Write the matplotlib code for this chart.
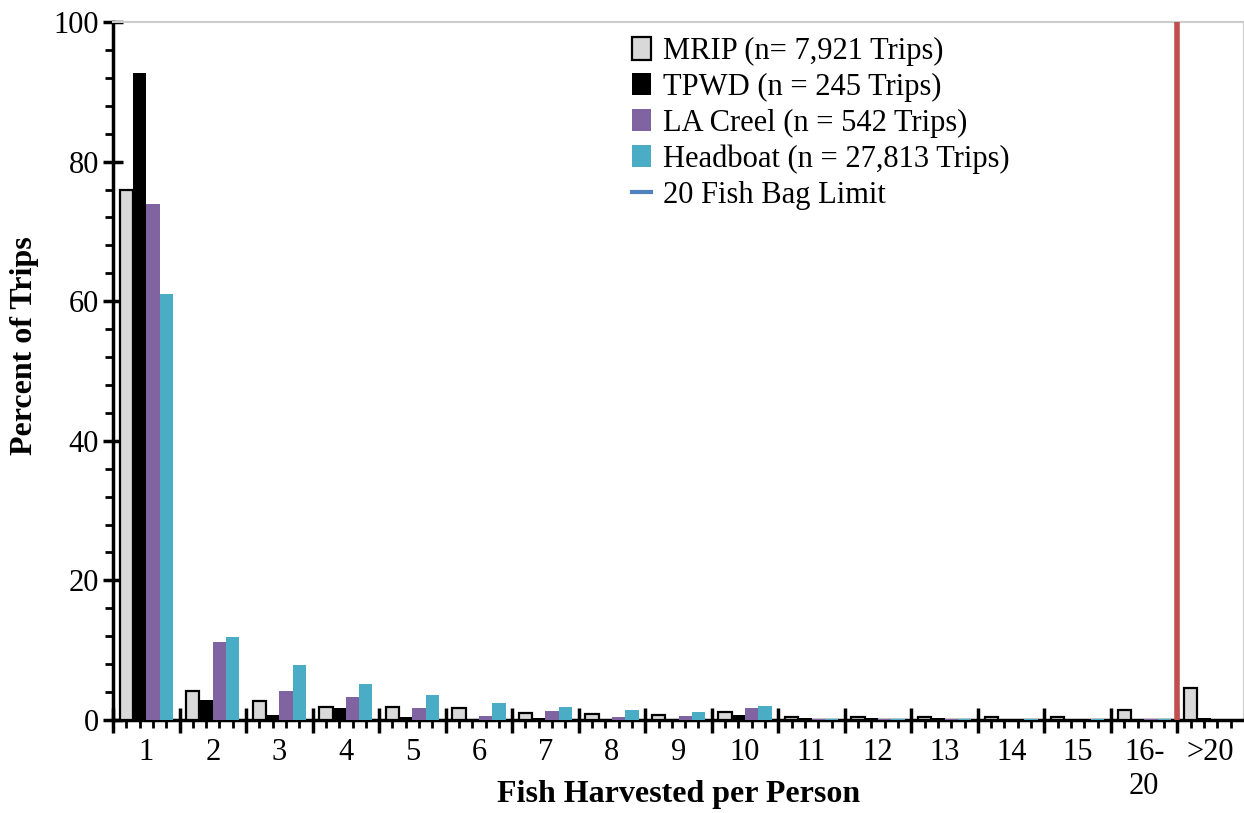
import numpy as np
import matplotlib
matplotlib.use('Agg')
import matplotlib.pyplot as plt
from matplotlib.patches import Patch
from matplotlib.lines import Line2D
from matplotlib.ticker import MultipleLocator, FixedLocator, NullFormatter

# data (percent of trips)
categories = ['1', '2', '3', '4', '5', '6', '7', '8', '9', '10',
              '11', '12', '13', '14', '15', '16-\n20', '>20']
mrip     = [76.0, 4.2, 2.7, 1.9, 1.9, 1.7, 1.0, 0.8, 0.7, 1.2, 0.5, 0.5, 0.5, 0.4, 0.4, 1.5, 4.6]
tpwd     = [92.7, 2.8, 0.7, 1.7, 0.4, 0.1, 0.3, 0.2, 0.2, 0.7, 0.3, 0.3, 0.3, 0.2, 0.2, 0.0, 0.3]
la_creel = [73.9, 11.2, 4.2, 3.3, 1.7, 0.6, 1.3, 0.5, 0.6, 1.7, 0.1, 0.1, 0.1, 0.0, 0.0, 0.1, 0.0]
headboat = [61.0, 11.9, 7.9, 5.2, 3.6, 2.5, 1.9, 1.4, 1.1, 2.0, 0.1, 0.1, 0.1, 0.1, 0.1, 0.1, 0.0]
series_labels = ['MRIP (n= 7,921 Trips)', 'TPWD (n = 245 Trips)',
                 'LA Creel (n = 542 Trips)', 'Headboat (n = 27,813 Trips)']
bag_limit_label = '20 Fish Bag Limit'

plt.rcParams['font.family'] = ['Liberation Serif', 'DejaVu Serif']

fig = plt.figure(figsize=(12.44, 8.13), dpi=100)
ax = fig.add_axes([113/1244, 93/813, 1131/1244, 698/813])

x = np.arange(len(categories))
w = 0.2
ax.bar(x - 0.3, mrip, w, color='#D9D9D9', edgecolor='black', linewidth=1.6, zorder=3)
ax.bar(x - 0.1, tpwd, w, color='black', zorder=3)
ax.bar(x + 0.1, la_creel, w, color='#8064A2', zorder=3)
ax.bar(x + 0.3, headboat, w, color='#4BACC6', zorder=3)

# bag limit line between 16-20 and >20
ax.axvline(15.5, color='#C0504D', linewidth=4, zorder=4)

ax.set_xlim(-0.5, len(categories) - 0.5)
ax.set_ylim(0, 100)

# spines
ax.spines['left'].set_linewidth(2.5)
ax.spines['bottom'].set_linewidth(2.5)
ax.spines['top'].set_color('#CCCCCC')
ax.spines['right'].set_color('#CCCCCC')
ax.spines['top'].set_linewidth(1.5)
ax.spines['right'].set_linewidth(1.5)

# y ticks
ax.yaxis.set_major_locator(MultipleLocator(20))
ax.yaxis.set_minor_locator(MultipleLocator(4))
ax.tick_params(axis='y', which='major', direction='inout', length=14, width=2.5, labelsize=22, pad=3)
ax.tick_params(axis='y', which='minor', direction='out', length=6, width=2)

# x ticks: marks at the category edges, labels at the centres
ax.xaxis.set_major_locator(FixedLocator(x - 0.5))
ax.xaxis.set_major_formatter(NullFormatter())
ax.xaxis.set_minor_locator(FixedLocator([b + k * 0.2 for b in x - 0.5 for k in range(1, 5)]))
ax.tick_params(axis='x', which='major', direction='inout', length=18, width=2.5)
ax.tick_params(axis='x', which='minor', direction='out', length=6, width=2)
for xi, lab in zip(x, categories):
    ax.text(xi, -0.026, lab, transform=ax.get_xaxis_transform(), ha='center', va='top',
            fontsize=22, linespacing=1.2)

ax.set_ylabel('Percent of Trips', fontsize=23, fontweight='bold')
ax.yaxis.set_label_coords(-0.0655, 0.537)
ax.set_xlabel('Fish Harvested per Person', fontsize=23, fontweight='bold', labelpad=31)

handles = [Patch(facecolor='#D9D9D9', edgecolor='black', linewidth=1.6),
           Patch(facecolor='black'),
           Patch(facecolor='#8064A2'),
           Patch(facecolor='#4BACC6'),
           Line2D([0], [0], color='#4F81BD', linewidth=3)]
ax.legend(handles, series_labels + [bag_limit_label], loc='upper left',
          bbox_to_anchor=(0.435, 1.018), frameon=False, fontsize=22,
          handlelength=0.6, handleheight=0.75, handletextpad=0.4, labelspacing=0.22)

fig.savefig('out.png', dpi=100)
